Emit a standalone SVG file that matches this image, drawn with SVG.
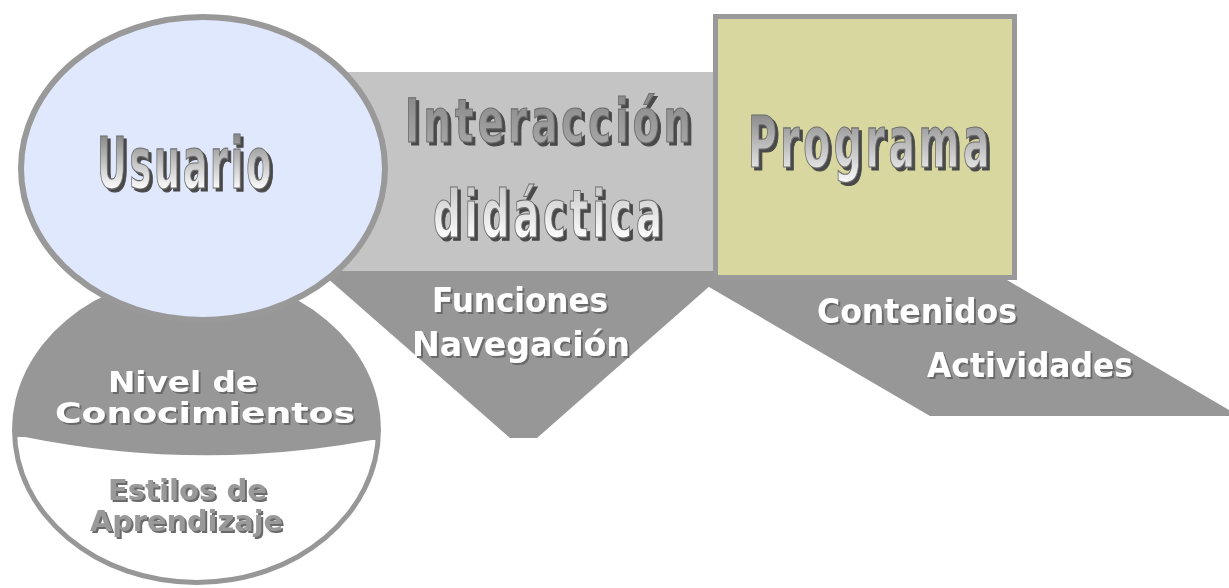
<svg xmlns="http://www.w3.org/2000/svg" width="1229" height="588" viewBox="0 0 1229 588">
<defs>
<linearGradient id="gUsu" gradientUnits="userSpaceOnUse" x1="0" y1="136" x2="0" y2="190">
<stop offset="0" stop-color="#8a8a8a"/><stop offset="1" stop-color="#ffffff"/>
</linearGradient>
<linearGradient id="gInt" gradientUnits="userSpaceOnUse" x1="0" y1="96" x2="0" y2="240">
<stop offset="0" stop-color="#8a8a8a"/><stop offset="0.45" stop-color="#b0b0b0"/><stop offset="1" stop-color="#ffffff"/>
</linearGradient>
<linearGradient id="gPro" gradientUnits="userSpaceOnUse" x1="0" y1="114" x2="0" y2="185">
<stop offset="0" stop-color="#8a8a8a"/><stop offset="1" stop-color="#ffffff"/>
</linearGradient>
<clipPath id="innerLow">
<ellipse cx="196.5" cy="430" rx="179.5" ry="150"/>
</clipPath>
<filter id="shTitle" x="-10%" y="-20%" width="130%" height="150%">
<feDropShadow dx="3" dy="3" stdDeviation="0" flood-color="#4a4a4a" flood-opacity="1"/>
</filter>
<filter id="shLbl" x="-10%" y="-20%" width="130%" height="150%">
<feDropShadow dx="2" dy="2" stdDeviation="0.4" flood-color="#6a6a6a" flood-opacity="1"/>
</filter>
</defs>
<style>
.title{font-family:"DejaVu Sans Condensed","DejaVu Sans","Liberation Sans",sans-serif;font-weight:bold;stroke:#6e6e6e;stroke-width:1.2;filter:url(#shTitle);}
.lbl{font-family:"DejaVu Sans","Liberation Sans",sans-serif;font-weight:bold;filter:url(#shLbl);}
.w{fill:#ffffff;}
.g{fill:#999999;}
.dark{fill:#979797;}
</style>

<g id="lower-circle">
<ellipse cx="196.5" cy="430" rx="184.5" ry="155" class="dark"/>
<path d="M0 437 L25 437 Q198 472 372 440 L400 440 L400 600 L0 600 Z" fill="#ffffff" clip-path="url(#innerLow)"/>
<text class="lbl w" x="108" y="392" font-size="29" textLength="150" lengthAdjust="spacingAndGlyphs">Nivel de</text>
<text class="lbl w" x="55" y="423" font-size="29" textLength="300" lengthAdjust="spacingAndGlyphs">Conocimientos</text>
<text class="lbl g" x="108" y="500" font-size="29" textLength="159" lengthAdjust="spacingAndGlyphs">Estilos de</text>
<text class="lbl g" x="90" y="531" font-size="29" textLength="193" lengthAdjust="spacingAndGlyphs">Aprendizaje</text>
</g>

<g id="funciones">
<polygon points="318,270 728,270 537,438 510,438" class="dark"/>
<text class="lbl w" x="432" y="312" font-size="33" textLength="176" lengthAdjust="spacingAndGlyphs">Funciones</text>
<text class="lbl w" x="412" y="356" font-size="33" textLength="218" lengthAdjust="spacingAndGlyphs">Navegación</text>
</g>

<g id="contenidos">
<polygon points="697,280 1007,280 1229,410 1229,416 930,416" class="dark"/>
<text class="lbl w" x="817" y="323" font-size="33" textLength="200" lengthAdjust="spacingAndGlyphs">Contenidos</text>
<text class="lbl w" x="927" y="377" font-size="33" textLength="206" lengthAdjust="spacingAndGlyphs">Actividades</text>
</g>

<g id="interaccion">
<rect x="300" y="72" width="416" height="199" fill="#c4c4c4"/>
<text class="title" fill="url(#gInt)" x="405" y="142" font-size="61" letter-spacing="6" textLength="290" lengthAdjust="spacingAndGlyphs">Interacción</text>
<text class="title" fill="url(#gInt)" x="433" y="237" font-size="66" letter-spacing="6" textLength="233" lengthAdjust="spacingAndGlyphs">didáctica</text>
</g>

<g id="programa">
<rect x="715.5" y="16.5" width="299" height="261" fill="#d7d79f" stroke="#999999" stroke-width="5"/>
<text class="title" fill="url(#gPro)" x="748" y="167" font-size="71" letter-spacing="6" textLength="245" lengthAdjust="spacingAndGlyphs">Programa</text>
</g>

<g id="usuario">
<ellipse cx="203" cy="168.5" rx="182" ry="151.5" fill="#e0e8fe" stroke="#999999" stroke-width="6"/>
<text class="title" fill="url(#gUsu)" x="97" y="188" font-size="72" letter-spacing="5" textLength="177" lengthAdjust="spacingAndGlyphs">Usuario</text>
</g>

<g id="connectors"></g>
</svg>
